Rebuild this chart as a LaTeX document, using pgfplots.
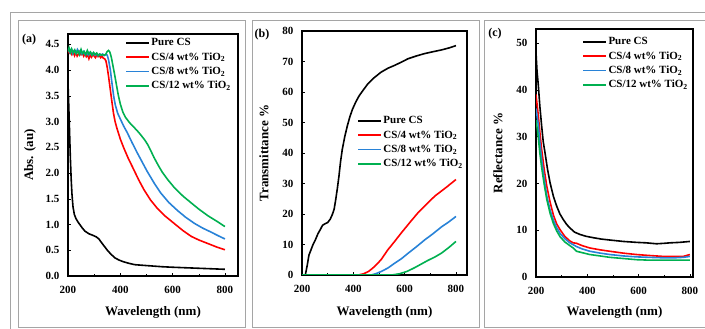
\documentclass[border=0pt]{standalone}
\usepackage{pgfplots}
\pgfplotsset{compat=1.18}
\usepackage{fontspec}
\setmainfont{Liberation Serif}
\definecolor{serred}{RGB}{255,0,0}
\definecolor{serblue}{RGB}{40,130,215}
\definecolor{sergreen}{RGB}{0,176,80}
\definecolor{frame}{RGB}{165,165,165}
\pgfplotsset{
  myaxis/.style={
    scale only axis,
    anchor=south west,
    axis line style={line width=1.1pt},
    tick pos=left,
    tick align=inside,
    major tick length=3pt,
    minor tick length=2pt,
    tick style={black, line width=0.4pt},
    xtick={200,400,600,800},
    minor xtick={300,500,700},
    xmin=200,
    /pgf/number format/assume math mode=true,
    ticklabel style={font=\bfseries\fontsize{11}{12}\selectfont},
    xticklabel style={yshift=-7pt},
    yticklabel style={xshift=-5pt},
    label style={font=\bfseries\fontsize{13}{14}\selectfont},
    legend style={draw=none, fill=none, inner sep=0pt, row sep=2.2pt,
      font=\bfseries\fontsize{11}{12}\selectfont,
      nodes={inner sep=1.5pt}},
    legend cell align=left,
    legend image code/.code={\draw[##1, line width=1.8pt] (0pt,0pt) -- (23pt,0pt);},
    every axis plot/.append style={line width=1.6pt, mark=none},
  }
}
\begin{document}
\begin{tikzpicture}
\useasboundingbox (0pt,0pt) rectangle (705pt,329pt);
% frames
\draw[frame, line width=0.8pt] (10pt,-2pt) -- (10pt,317pt) -- (706pt,317pt);
\draw[frame, line width=0.8pt] (18pt,2pt) rectangle (245pt,309pt);
\draw[frame, line width=0.8pt] (252pt,2pt) rectangle (479pt,309pt);
\draw[frame, line width=0.8pt] (706pt,2pt) -- (484pt,2pt) -- (484pt,309pt) -- (706pt,309pt);
\node[font=\bfseries\fontsize{12}{13}\selectfont] at (29pt,289pt) {(a)};
\node[font=\bfseries\fontsize{12}{13}\selectfont] at (262pt,294pt) {(b)};
\node[font=\bfseries\fontsize{12}{13}\selectfont] at (495pt,295pt) {(c)};

% ---------------- (a) ----------------
\begin{axis}[myaxis, at={(68pt,53pt)}, width=170pt, height=242pt,
  xmax=850, ymin=0, ymax=4.7,
  ytick={0,0.5,...,4.5},
  yticklabel style={/pgf/number format/fixed, /pgf/number format/fixed zerofill, /pgf/number format/precision=1},
  xlabel={Wavelength (nm)}, ylabel={Abs. (au)},
  xlabel style={at={(axis description cs:0.5,-0.149)}, anchor=center},
  ylabel style={at={(axis description cs:-0.224,0.5)}, anchor=center, rotate=0},
  legend style={at={(0.335,0.988)}, anchor=north west},
]
\addplot[black] coordinates {(200,3.75)(203,3.3)(206,2.8)(209,2.3)(212,1.9)(215,1.6)(219,1.35)(224,1.2)(230,1.12)(238,1.05)(245,1.0)(255,0.93)(265,0.87)(280,0.82)(295,0.79)(308,0.76)(318,0.72)(328,0.65)(340,0.57)(352,0.49)(365,0.42)(380,0.35)(395,0.31)(410,0.28)(430,0.25)(455,0.22)(480,0.21)(520,0.195)(560,0.18)(600,0.17)(650,0.16)(700,0.15)(750,0.14)(800,0.13)};
\addlegendentry{Pure CS}
\addplot[serred] coordinates {(200,4.38)(205,4.33)(210,4.36)(215,4.30)(220,4.35)(225,4.28)(230,4.34)(235,4.27)(240,4.31)(245,4.36)(250,4.30)(255,4.33)(260,4.27)(265,4.32)(270,4.26)(275,4.30)(280,4.22)(285,4.29)(290,4.25)(295,4.31)(300,4.27)(305,4.24)(310,4.30)(315,4.26)(320,4.28)(325,4.24)(330,4.27)(335,4.23)(340,4.22)(345,4.18)(350,4.05)(355,3.88)(361,3.65)(368,3.38)(374,3.16)(380,3.0)(387,2.87)(400,2.66)(413,2.49)(430,2.29)(452,2.06)(470,1.87)(490,1.68)(515,1.48)(542,1.31)(570,1.17)(606,1.02)(640,0.88)(671,0.77)(700,0.7)(735,0.63)(770,0.56)(800,0.51)};
\addlegendentry{CS/4 wt\% TiO\textsubscript{2}}
\addplot[serblue] coordinates {(200,4.42)(206,4.35)(212,4.4)(218,4.32)(224,4.38)(230,4.33)(236,4.4)(242,4.34)(248,4.38)(254,4.31)(260,4.36)(266,4.3)(272,4.35)(278,4.29)(284,4.34)(290,4.3)(296,4.33)(302,4.29)(308,4.32)(314,4.28)(320,4.31)(326,4.29)(332,4.31)(338,4.28)(344,4.3)(350,4.29)(355,4.2)(362,4.0)(368,3.75)(375,3.48)(381,3.32)(390,3.16)(400,3.05)(413,2.91)(426,2.79)(445,2.59)(465,2.39)(485,2.2)(503,2.03)(530,1.8)(555,1.61)(585,1.43)(619,1.27)(650,1.14)(684,1.02)(715,0.93)(748,0.85)(775,0.78)(800,0.72)};
\addlegendentry{CS/8 wt\% TiO\textsubscript{2}}
\addplot[sergreen] coordinates {(200,4.36)(204,4.43)(209,4.34)(214,4.41)(220,4.33)(226,4.39)(232,4.32)(238,4.37)(244,4.3)(250,4.4)(256,4.32)(262,4.36)(268,4.3)(274,4.38)(280,4.31)(286,4.35)(292,4.29)(298,4.34)(304,4.3)(310,4.33)(316,4.28)(322,4.31)(328,4.29)(334,4.3)(340,4.29)(345,4.31)(350,4.36)(355,4.38)(360,4.35)(366,4.24)(372,4.08)(378,3.92)(385,3.72)(392,3.52)(400,3.34)(410,3.18)(420,3.08)(435,2.98)(450,2.9)(465,2.82)(480,2.73)(495,2.63)(505,2.55)(515,2.45)(529,2.3)(545,2.15)(560,2.02)(580,1.88)(606,1.72)(640,1.55)(671,1.42)(700,1.3)(735,1.17)(770,1.06)(800,0.96)};
\addlegendentry{CS/12 wt\% TiO\textsubscript{2}}
\end{axis}

% ---------------- (b) ----------------
\begin{axis}[myaxis, at={(302pt,54pt)}, width=165pt, height=244pt,
  xmax=843, ymin=0, ymax=80,
  ytick={0,10,...,80},
  xlabel={Wavelength (nm)}, ylabel={Transmittance \%},
  xlabel style={at={(axis description cs:0.5,-0.152)}, anchor=center},
  ylabel style={at={(axis description cs:-0.23,0.5)}, anchor=center, rotate=0},
  legend style={at={(0.333,0.656)}, anchor=north west},
]
\addplot[black] coordinates {(200,0)(213,0)(220,3)(227,6.5)(233,7.8)(243,10)(252,11.5)(262,13.5)(272,15)(280,16.3)(290,16.8)(300,17.2)(310,18.3)(318,19.8)(325,21.5)(331,24.5)(338,28.5)(344,32.4)(350,37)(357,41.2)(367,45.5)(377,49)(387,52)(397,54.4)(410,56.8)(423,58.8)(440,60.8)(456,62.6)(480,64.6)(508,66.5)(535,67.8)(560,68.7)(590,69.9)(613,70.9)(645,71.8)(678,72.6)(710,73.2)(744,73.8)(775,74.5)(800,75.2)};
\addlegendentry{Pure CS}
\addplot[serred] coordinates {(200,0)(420,0)(440,0.4)(460,1.2)(482,2.7)(508,5)(534,8.2)(560,10.9)(587,13.8)(620,17.2)(652,20.4)(685,23.2)(718,25.9)(760,28.6)(800,31.3)};
\addlegendentry{CS/4 wt\% TiO\textsubscript{2}}
\addplot[serblue] coordinates {(200,0)(470,0)(490,0.5)(510,1.2)(535,2.3)(560,3.8)(587,5.3)(613,7.1)(645,9.2)(678,11.5)(710,13.5)(744,15.8)(772,17.4)(800,19.2)};
\addlegendentry{CS/8 wt\% TiO\textsubscript{2}}
\addplot[sergreen] coordinates {(200,0)(550,0)(580,0.4)(610,1.2)(639,2.4)(665,3.6)(691,4.8)(718,5.9)(744,7.2)(772,9)(800,11)};
\addlegendentry{CS/12 wt\% TiO\textsubscript{2}}
\end{axis}

% ---------------- (c) ----------------
\begin{axis}[myaxis, at={(536pt,52pt)}, width=157pt, height=248pt,
  xmax=812, ymin=0, ymax=53,
  ytick={0,10,...,50},
  xlabel={Wavelength (nm)}, ylabel={Reflectance \%},
  xlabel style={at={(axis description cs:0.5,-0.141)}, anchor=center},
  ylabel style={at={(axis description cs:-0.242,0.5)}, anchor=center, rotate=0},
  legend style={at={(0.293,0.972)}, anchor=north west},
]
\addplot[black] coordinates {(200,48)(204,44)(209,41)(215,36.5)(222,32.3)(228,29)(235,26.6)(245,23)(255,20.1)(268,17.2)(281,15.1)(293,13.5)(306,12.3)(320,11.2)(332,10.5)(350,9.6)(371,9.1)(395,8.7)(423,8.4)(455,8.1)(488,7.9)(540,7.6)(592,7.4)(630,7.3)(670,7.1)(700,7.2)(722,7.3)(760,7.4)(800,7.6)};
\addlegendentry{Pure CS}
\addplot[serred] coordinates {(200,39)(204,37)(209,34.5)(215,31)(222,27.3)(232,23)(242,19.4)(255,16)(268,13.2)(281,11.3)(294,10.1)(312,8.7)(332,7.7)(345,7.3)(358,7.2)(380,6.7)(410,6.2)(450,5.8)(488,5.5)(540,5.1)(592,4.8)(640,4.6)(696,4.4)(740,4.4)(774,4.4)(800,4.8)};
\addlegendentry{CS/4 wt\% TiO\textsubscript{2}}
\addplot[serblue] coordinates {(200,36)(204,34.5)(209,32.5)(215,28.8)(222,25.1)(232,21)(242,17.3)(255,14.3)(268,12.1)(281,10.5)(294,9.3)(312,8.2)(332,7.3)(345,6.9)(358,6.5)(380,6.0)(410,5.5)(450,5.1)(488,4.8)(540,4.5)(592,4.3)(640,4.2)(696,4.1)(740,4.1)(774,4.2)(800,4.4)};
\addlegendentry{CS/8 wt\% TiO\textsubscript{2}}
\addplot[sergreen] coordinates {(200,33.5)(204,32)(209,29.8)(215,26.5)(222,23.4)(232,19.8)(242,16.6)(255,13.6)(268,11.4)(281,9.8)(294,8.6)(312,7.5)(332,6.7)(345,6.2)(358,5.5)(380,5.2)(410,4.8)(450,4.5)(488,4.2)(540,3.95)(592,3.7)(640,3.6)(696,3.6)(740,3.6)(800,3.6)};
\addlegendentry{CS/12 wt\% TiO\textsubscript{2}}
\end{axis}
\end{tikzpicture}
\end{document}
